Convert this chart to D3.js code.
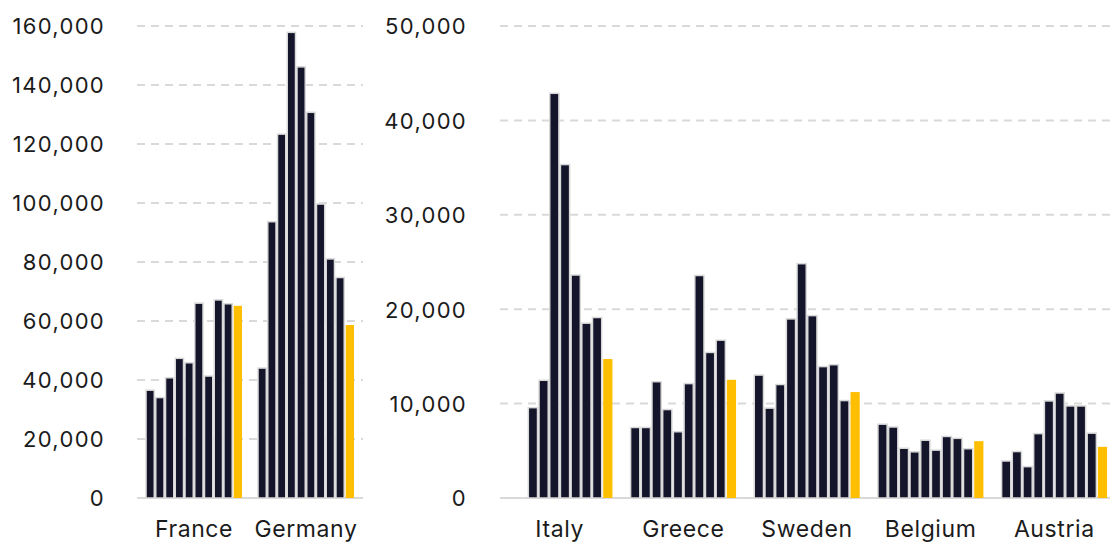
<!DOCTYPE html>
<html><head><meta charset="utf-8">
<script src="https://cdn.jsdelivr.net/npm/d3@7"></script>
<style>body{margin:0;background:#fff}svg{display:block}text{font-family:Inter,Lato,sans-serif;fill:#1b1b1b}</style>
</head><body><svg id="c" width="1110" height="542"></svg>
<script>
const years = ["2014","2015","2016","2017","2018","2019","2020","2021","2022","2023"];
const leftCountries = ["France","Germany"];
const rightCountries = ["Italy","Greece","Sweden","Belgium","Austria"];
const France  = [36800,34300,41000,47600,46100,66300,41600,67400,66100,65400];
const Germany = [44300,93900,123600,158100,146400,131000,99900,81300,75000,58900];
const Italy   = [null,null,9650,12550,42950,35400,23700,18600,19200,14800];
const Greece  = [7550,7550,12400,9450,7100,12200,23650,15500,16800,12600];
const Sweden  = [13100,9600,12100,19050,24900,19400,14000,14200,10400,11300];
const Belgium = [7900,7600,5350,4970,6200,5150,6600,6400,5300,6100];
const Austria = [4000,5000,3400,6900,10360,11200,9830,9830,6950,5500];
const leftTicks = [0,20000,40000,60000,80000,100000,120000,140000,160000];
const rightTicks = [0,10000,20000,30000,40000,50000];
const seriesByCountry = {France,Germany,Italy,Greece,Sweden,Belgium,Austria};

const svg = d3.select("#c");
const fmt = d3.format(",");
const dark = "#14152b", yellow = "#ffbf00", grid = "#d9d9d9";

function panel(countries, ticks, xr, po, pi, labelRight) {
  const y = d3.scaleLinear().domain([0, ticks[ticks.length-1]]).range([498, 26]);
  const x = d3.scaleBand().domain(countries).range(xr).paddingInner(pi).paddingOuter(po);
  const xi = d3.scaleBand().domain(years).range([0, x.bandwidth()]).padding(0);
  const g = svg.append("g");
  g.selectAll("line.grid").data(ticks.slice(1)).join("line")
    .attr("x1", xr[0]).attr("x2", Math.min(xr[1],1110))
    .attr("y1", d=>y(d)).attr("y2", d=>y(d))
    .attr("stroke", grid).attr("stroke-width", 2).attr("stroke-dasharray","8,6");
  const ax = d3.axisLeft(y).tickValues(ticks).tickFormat(fmt).tickSize(0).tickPadding(0);
  const a = g.append("g").attr("transform", `translate(${labelRight},0)`).call(ax);
  a.select(".domain").remove();
  a.selectAll("text").style("font-size","22px").style("font-family","Inter,Lato,sans-serif")
    .style("font-weight","400").style("letter-spacing","1.3px").attr("fill","#1b1b1b").attr("dy","0.36em");
  g.append("line").attr("x1", xr[0]).attr("x2", Math.min(xr[1],1110))
    .attr("y1", y(0)).attr("y2", y(0)).attr("stroke", grid).attr("stroke-width", 2);
  countries.forEach(c => {
    const vals = seriesByCountry[c];
    const gg = g.append("g").attr("transform", `translate(${x(c)},0)`);
    gg.selectAll("rect").data(years.map((yr,i)=>({yr, v: vals[i], last: i===years.length-1})).filter(d=>d.v!=null))
      .join("rect")
      .attr("x", d=>xi(d.yr)+0.75).attr("width", xi.bandwidth()-1.5)
      .attr("y", d=>y(d.v)+0.75).attr("height", d=>y(0)-y(d.v)-0.75)
      .attr("fill", d=>d.last?yellow:dark)
      .attr("stroke", d=>d.last?"none":grid).attr("stroke-width", 1.5);
    g.append("text").attr("x", x(c)+x.bandwidth()/2).attr("y", 531)
      .attr("text-anchor","middle").attr("dominant-baseline","middle")
      .style("font-size","23px").style("font-weight","400").style("letter-spacing","0.6px").text(c);
  });
}
panel(leftCountries, leftTicks, [137,363], 0.074, 0.13, 105);
panel(rightCountries, rightTicks, [500,1114], 0.05, 0.135, 467);
</script></body></html>
